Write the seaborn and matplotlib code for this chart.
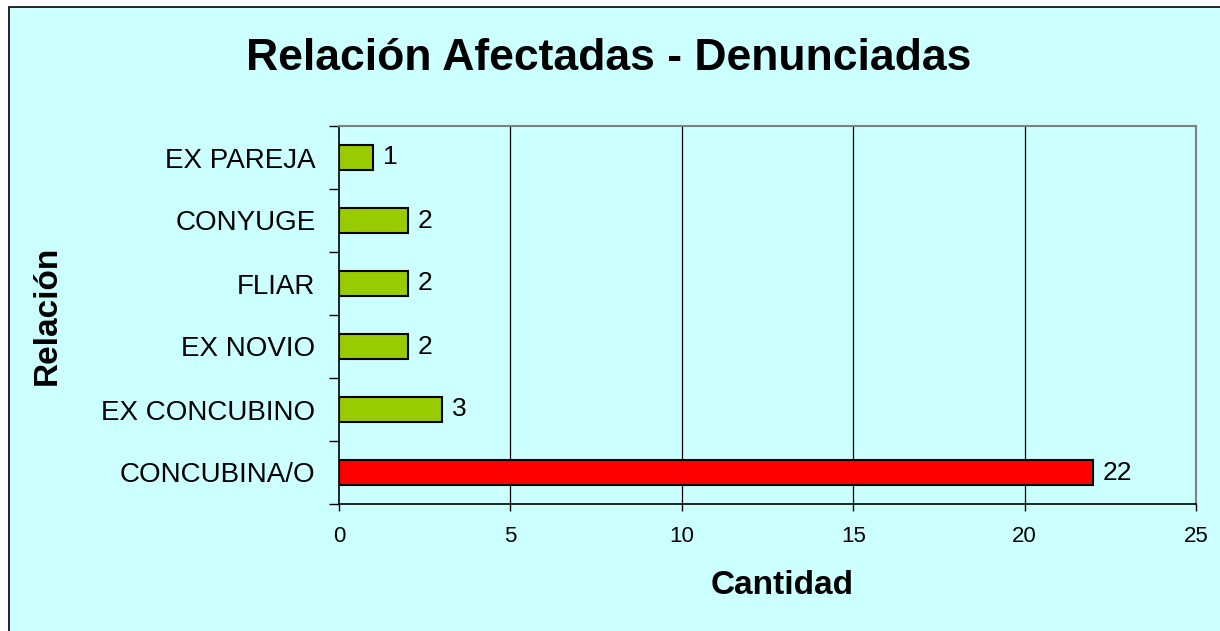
import matplotlib
matplotlib.use("Agg")
import matplotlib.pyplot as plt
import matplotlib.patches as mpatches
from matplotlib.ticker import FixedLocator
import seaborn as sns
import pandas as pd

# Data
relaciones = ["EX PAREJA", "CONYUGE", "FLIAR", "EX NOVIO", "EX CONCUBINO", "CONCUBINA/O"]
cantidades = [1, 2, 2, 2, 3, 22]
colores = ["#99CC00", "#99CC00", "#99CC00", "#99CC00", "#99CC00", "#FF0000"]
x_ticks = [0, 5, 10, 15, 20, 25]

titulo = "Relación Afectadas - Denunciadas"
etiqueta_x = "Cantidad"
etiqueta_y = "Relación"

sns.set_theme(style="white")
plt.rcParams["font.family"] = ["Liberation Sans", "DejaVu Sans"]
plt.rcParams["text.color"] = "black"
plt.rcParams["axes.labelcolor"] = "black"
plt.rcParams["xtick.color"] = "black"
plt.rcParams["ytick.color"] = "black"

fondo = "#CCFFFF"
W, H = 1220, 631
fig = plt.figure(figsize=(W / 100, H / 100), dpi=100, facecolor="white")

# Chart area frame (runs past the right and bottom edges)
marco = mpatches.Rectangle((9 / W, -0.05), 1.2, 1 - 7 / H + 0.05,
                           transform=fig.transFigure, facecolor=fondo,
                           edgecolor="black", linewidth=1.2, zorder=-10)
fig.patches.append(marco)

ax = fig.add_axes([339 / W, 1 - 504 / H, (1196 - 339) / W, (504 - 126) / H])
ax.set_zorder(5)
ax.set_facecolor(fondo)

df = pd.DataFrame({"relacion": relaciones, "cantidad": cantidades})
sns.barplot(data=df, x="cantidad", y="relacion", hue="relacion",
            palette=dict(zip(relaciones, colores)), order=relaciones,
            hue_order=relaciones, legend=False, width=0.4,
            edgecolor="black", linewidth=1.5, saturation=1, ax=ax, zorder=3)

for cont in ax.containers:
    ax.bar_label(cont, fmt="%d", padding=7, fontsize=19, color="black")

ax.set_xlim(x_ticks[0], x_ticks[-1])
ax.set_ylim(len(relaciones) - 0.5, -0.5)
ax.set_xticks(x_ticks)
ax.set_xticklabels([str(t) for t in x_ticks], fontsize=16)

# vertical gridlines
ax.grid(False)
for t in x_ticks[1:-1]:
    ax.axvline(t, color="black", linewidth=0.9, zorder=1)

# y ticks between categories
ax.yaxis.set_minor_locator(FixedLocator([i - 0.5 for i in range(len(relaciones) + 1)]))
ax.tick_params(axis="y", which="major", length=0, pad=17, labelsize=20)
ax.tick_params(axis="y", which="minor", left=True, length=7, width=1, color="black", direction="out")
ax.tick_params(axis="x", which="major", bottom=True, length=5, width=1, color="black",
               direction="out", pad=11)

for s in ["top", "right"]:
    ax.spines[s].set_color("#808080")
    ax.spines[s].set_linewidth(1.5)
for s in ["left", "bottom"]:
    ax.spines[s].set_color("black")
    ax.spines[s].set_linewidth(1.2)

ax.set_xlabel(etiqueta_x, fontsize=24, fontweight="bold")
ax.set_ylabel(etiqueta_y, fontsize=24, fontweight="bold")
ax.xaxis.set_label_coords((782 - 339) / (1196 - 339), -(586 - 504) / (504 - 126), transform=ax.transAxes)
ax.yaxis.set_label_coords(-(339 - 47) / (1196 - 339), 0.5, transform=ax.transAxes)
ax.xaxis.label.set_va("center")
ax.yaxis.label.set_va("center")

fig.text(609 / W, 1 - 58 / H, titulo, fontsize=32, fontweight="bold",
         ha="center", va="center", color="black")

fig.savefig("out.png", dpi=100, facecolor="white")
